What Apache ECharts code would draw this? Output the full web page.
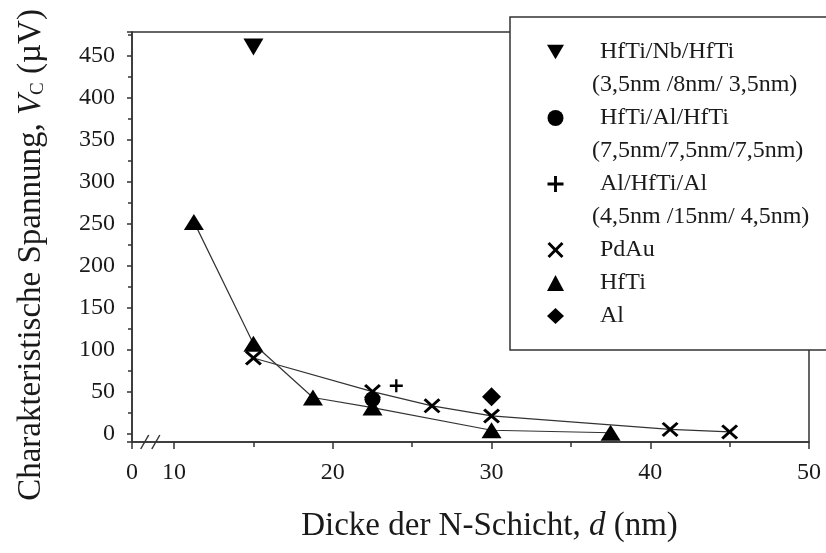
<!DOCTYPE html>
<html>
<head>
<meta charset="utf-8">
<script src="https://cdn.jsdelivr.net/npm/echarts@6/dist/echarts.min.js"></script>
<style>
  html, body { margin: 0; padding: 0; background: #fff; }
  #chart { width: 826px; height: 553px; }
</style>
</head>
<body>
<div id="chart"></div>
<script>
// Characteristic voltage V_C versus normal-layer thickness d (nm), per barrier material
const hfTiNbHfTi = [[15, 460]];
const hfTiAlHfTi = [[22.5, 41]];
const alHfTiAl = [[24, 57]];
const pdAu = [[15, 90], [22.5, 50], [26.25, 33], [30, 21], [41.25, 5], [45, 2]];
const hfTi = [[11.25, 252], [15, 107], [18.75, 43], [22.5, 31], [30, 4], [37.5, 1]];
const al = [[30, 44]];

// Legend rows (layer stacks with their thicknesses on a second row)
const seriesNames = ['HfTi/Nb/HfTi', 'HfTi/Al/HfTi', 'Al/HfTi/Al', 'PdAu', 'HfTi', 'Al'];
const stackNotes = ['(3,5nm /8nm/ 3,5nm)', '(7,5nm/7,5nm/7,5nm)', '(4,5nm /15nm/ 4,5nm)'];

// x axis: real scale runs 10..50 nm, the stretch 0..10 is collapsed (axis break)
const xMax = 50;
const xVisibleMin = 7.35;
const yMin = -10;
const yMax = 478;

const FONT = '"Liberation Serif", "Times New Roman", serif';
const INK = '#1a1a1a';
const LINE = '#333';

const SYM_DOWN = 'path://M0,0L10,0L5,8.5Z';
const SYM_CROSS = 'path://M0,1.3L1.3,0L5,3.7L8.7,0L10,1.3L6.3,5L10,8.7L8.7,10L5,6.3L1.3,10L0,8.7L3.7,5Z';
const SYM_PLUS = 'path://M4.1,0H5.9V4.1H10V5.9H5.9V10H4.1V5.9H0V4.1H4.1Z';

const chart = echarts.init(document.getElementById('chart'), null, { renderer: 'canvas' });

const axisLineStyle = { color: LINE, width: 1.5 };
const mark = { color: '#000', opacity: 1 };

const firstRowText = { padding: [0, 0, 0, 31] };
const secondRowText = { padding: [0, 0, 0, 23] };

const legendData = [
  { name: seriesNames[0], icon: SYM_DOWN, textStyle: firstRowText },
  { name: stackNotes[0], icon: 'none', textStyle: secondRowText },
  { name: seriesNames[1], icon: 'circle', textStyle: firstRowText },
  { name: stackNotes[1], icon: 'none', textStyle: secondRowText },
  { name: seriesNames[2], icon: SYM_PLUS, textStyle: firstRowText },
  { name: stackNotes[2], icon: 'none', textStyle: secondRowText },
  { name: seriesNames[3], icon: SYM_CROSS, textStyle: firstRowText },
  { name: seriesNames[4], icon: 'triangle', textStyle: firstRowText },
  { name: seriesNames[5], icon: 'diamond', textStyle: firstRowText }
];

const option = {
  animation: false,
  backgroundColor: '#fff',
  textStyle: { fontFamily: FONT, color: INK },
  grid: {
    left: 132, top: 32, right: 17, bottom: 111,
    show: true, borderColor: LINE, borderWidth: 1.5,
    containLabel: false, outerBoundsMode: 'none'
  },
  legend: {
    orient: 'vertical',
    left: 510, top: 17,
    padding: [18.5, 70, 17.5, 37],
    itemGap: 0,
    itemWidth: 17, itemHeight: 16,
    backgroundColor: '#fff',
    borderColor: LINE, borderWidth: 1.5, borderRadius: 0,
    selectedMode: false,
    itemStyle: { opacity: 1 },
    textStyle: { fontFamily: FONT, fontSize: 24, color: INK, lineHeight: 33 },
    data: legendData
  },
  xAxis: {
    type: 'value',
    min: xVisibleMin, max: xMax,
    splitNumber: 4,
    axisLine: { show: true, onZero: false, lineStyle: axisLineStyle },
    axisTick: { show: true, inside: false, length: 7, lineStyle: axisLineStyle },
    minorTick: { show: true, splitNumber: 2, length: 5, lineStyle: axisLineStyle },
    splitLine: { show: false },
    minorSplitLine: { show: false },
    axisLabel: {
      interval: 0, showMinLabel: true, showMaxLabel: true,
      margin: 19, fontFamily: FONT, fontSize: 24, color: INK,
      formatter: function (v) { return v < 10 ? '0' : String(Math.round(v)); }
    },
    name: 'Dicke der N-Schicht, {d|d} (nm)',
    nameLocation: 'middle', nameGap: 68,
    nameTextStyle: {
      fontFamily: FONT, fontSize: 33, color: INK, padding: [0, 0, 0, 38],
      rich: { d: { fontFamily: FONT, fontSize: 33, fontStyle: 'italic', color: INK } }
    }
  },
  yAxis: {
    type: 'value',
    min: yMin, max: yMax,
    splitNumber: 10,
    axisLine: { show: true, onZero: false, lineStyle: axisLineStyle },
    axisTick: { show: true, inside: false, length: 5, lineStyle: axisLineStyle },
    minorTick: { show: true, splitNumber: 2, length: 4, lineStyle: axisLineStyle },
    splitLine: { show: false },
    minorSplitLine: { show: false },
    axisLabel: {
      margin: 17, fontFamily: FONT, fontSize: 24, color: INK,
      formatter: function (v) { return (v >= 0 && v % 50 === 0) ? String(v) : ''; }
    },
    name: 'Charakteristische Spannung, {v|V}{c|C} (\u00b5V)',
    nameLocation: 'middle', nameGap: 84,
    nameTextStyle: {
      fontFamily: FONT, fontSize: 33, color: INK, padding: [0, 36, 0, 0],
      rich: {
        v: { fontFamily: FONT, fontSize: 33, fontStyle: 'italic', color: INK },
        c: { fontFamily: FONT, fontSize: 19, color: INK, verticalAlign: 'bottom' }
      }
    }
  },
  series: [
    {
      name: seriesNames[0], type: 'scatter', data: hfTiNbHfTi,
      symbol: SYM_DOWN, symbolSize: [20, 17], itemStyle: mark, z: 3
    },
    {
      name: seriesNames[4], type: 'line', data: hfTi,
      symbol: 'triangle', symbolSize: [20, 16], showSymbol: true,
      itemStyle: mark, lineStyle: { color: LINE, width: 1.2 }, z: 3
    },
    {
      name: seriesNames[1], type: 'scatter', data: hfTiAlHfTi,
      symbol: 'circle', symbolSize: 16, itemStyle: mark, z: 4
    },
    {
      name: seriesNames[3], type: 'line', data: pdAu,
      symbol: SYM_CROSS, symbolSize: [17, 15], showSymbol: true,
      itemStyle: mark, lineStyle: { color: LINE, width: 1.2 }, z: 5
    },
    {
      name: seriesNames[2], type: 'scatter', data: alHfTiAl,
      symbol: SYM_PLUS, symbolSize: 13, itemStyle: mark, z: 5
    },
    {
      name: seriesNames[5], type: 'scatter', data: al,
      symbol: 'diamond', symbolSize: [19, 19], itemStyle: mark, z: 5
    },
    // second legend rows carry only text
    { name: stackNotes[0], type: 'line', data: [], itemStyle: { color: 'transparent' } },
    { name: stackNotes[1], type: 'line', data: [], itemStyle: { color: 'transparent' } },
    { name: stackNotes[2], type: 'line', data: [], itemStyle: { color: 'transparent' } }
  ]
};

chart.setOption(option);

// Axis-break marks "//" on the x axis, placed in axis units inside the collapsed stretch
const breakAt = [8.15, 8.85];
const yBase = chart.convertToPixel({ yAxisIndex: 0 }, yMin);
chart.setOption({
  graphic: breakAt.map(function (v) {
    const px = chart.convertToPixel({ xAxisIndex: 0 }, v);
    return {
      type: 'line', z: 10,
      shape: { x1: px - 4, y1: yBase + 7, x2: px + 4, y2: yBase - 7 },
      style: { stroke: LINE, lineWidth: 1.5 }
    };
  })
});
</script>
</body>
</html>
